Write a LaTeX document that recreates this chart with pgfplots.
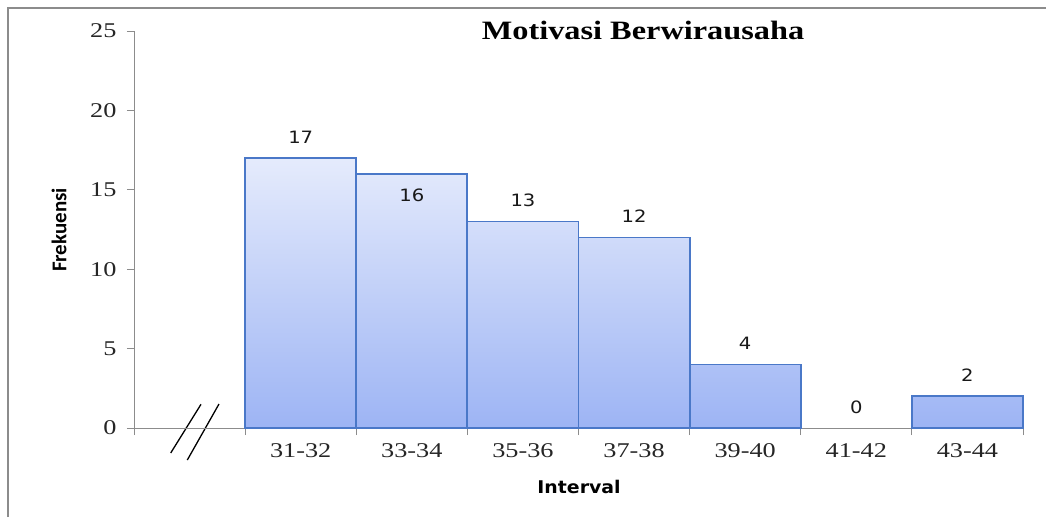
\documentclass[border=0pt]{standalone}
\usepackage{pgfplots}
\pgfplotsset{compat=1.18}
\usepackage{pgfplotstable}
\usepackage{fontspec}
\setmainfont{Liberation Serif}
\newfontfamily\tickfontfam[FakeStretch=1.25]{Liberation Serif}
\newfontfamily\titlefontfam[FakeStretch=1.22]{Liberation Serif Bold}
\newfontfamily\lblfontfam[FakeStretch=1.15]{DejaVu Sans}
\newfontfamily\intfontfam[FakeStretch=1.08]{DejaVu Sans Bold}
\newfontfamily\frekfontfam{Carlito Bold}
\newcommand\tickfont{\tickfontfam\fontsize{21}{25}\selectfont}
\newcommand\titlefont{\titlefontfam\fontsize{26.5}{30}\selectfont}
\newcommand\lblfont{\lblfontfam\fontsize{17}{20}\selectfont}
\newcommand\intfont{\intfontfam\fontsize{17.5}{21}\selectfont}
\newcommand\frekfont{\frekfontfam\fontsize{21}{25}\selectfont}
\definecolor{barblue}{HTML}{4A78C8}
\definecolor{bartop}{HTML}{E5EBFC}
\definecolor{barbot}{HTML}{9DB4F4}
\definecolor{axgray}{HTML}{8C8C8C}
\pgfplotstableread{
x    y   off
1.5  17  21
2.5  16  -21
3.5  13  21
4.5  12  21
5.5  4   21
6.5  0   21
7.5  2   21
}\datatable
\begin{document}
\begin{tikzpicture}
\path[use as bounding box] (0pt,0pt) rectangle (1046pt,-517pt);
\draw[axgray, line width=1.6pt] (8pt,-517pt) -- (8pt,-8pt) -- (1046pt,-8pt);
\draw[black, line width=1.3pt] (170.7pt,-453pt) -- (201pt,-404.3pt);
\draw[black, line width=1.3pt] (187.3pt,-460pt) -- (219pt,-404pt);
\begin{axis}[
  at={(134pt,-428pt)}, anchor=south west,
  scale only axis, width=889pt, height=397pt,
  xmin=0, xmax=8, ymin=0, ymax=25,
  clip=false,
  axis x line*=bottom, axis y line*=left,
  axis line style={-, draw=axgray, line width=1pt},
  xtick={1.5,2.5,3.5,4.5,5.5,6.5,7.5},
  xticklabels={31-32,33-34,35-36,37-38,39-40,41-42,43-44},
  minor xtick={0,1,2,3,4,5,6,7,8},
  ytick={0,5,10,15,20,25},
  major x tick style={draw=none},
  tick style={draw=axgray, line width=1pt},
  tick align=outside,
  major tick length=7pt, minor tick length=7pt,
  /pgf/number format/assume math mode=true,
  ticklabel style={font=\tickfont, text=black!85},
  yticklabel style={xshift=-7pt},
  xticklabel style={yshift=-5pt},
  title={Motivasi Berwirausaha},
  title style={font=\titlefont, at={(axis description cs:0.5726,0.987)}, anchor=center},
  xlabel={Interval},
  xlabel style={font=\intfont, at={(axis description cs:0.5006,-0.1486)}, anchor=center},
  ylabel={Frekuensi},
  ylabel style={font=\frekfont, at={(axis description cs:-0.0844,0.4987)}, anchor=center},
]
\addplot[ybar, bar width=1, draw=barblue, line width=1.8pt,
  top color=bartop, bottom color=barbot,
  restrict y to domain=0.1:30]
  table[x=x, y=y] {\datatable};
\addplot[draw=none, mark=none,
  nodes near coords,
  visualization depends on={\thisrow{off}\as\off},
  every node near coord/.append style={font=\lblfont, text=black!90, anchor=center, yshift=\off}]
  table[x=x, y=y] {\datatable};
\end{axis}
\end{tikzpicture}
\end{document}
